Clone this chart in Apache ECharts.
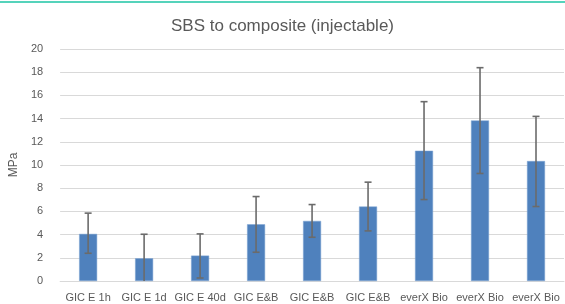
<!DOCTYPE html>
<html>
<head>
<meta charset="utf-8">
<script src="https://cdn.jsdelivr.net/npm/echarts@6/dist/echarts.min.js"></script>
<style>
  html, body { margin: 0; padding: 0; background: #fff; }
  #main { width: 565px; height: 304px; }
</style>
</head>
<body>
<div id="main"></div>
<script>
// chart data
var categories = ['GIC E 1h', 'GIC E 1d', 'GIC E 40d', 'GIC E&B', 'GIC E&B', 'GIC E&B', 'everX Bio', 'everX Bio', 'everX Bio'];
var means = [4.06, 1.96, 2.19, 4.89, 5.18, 6.42, 11.23, 13.84, 10.34];
var errHigh = [5.85, 4.03, 4.06, 7.28, 6.59, 8.52, 15.46, 18.39, 14.19];
var errLow = [2.39, -0.1, 0.26, 2.48, 3.77, 4.32, 7.02, 9.27, 6.42];
var yTicks = { min: 0, max: 20, step: 2 };

var errData = categories.map(function (c, i) {
  return [i, errLow[i], errHigh[i]];
});

var chart = echarts.init(document.getElementById('main'));
var textColor = '#595959';
var fontFamily = '"Liberation Sans", Arial, sans-serif';

chart.setOption({
  animation: false,
  textStyle: { fontFamily: fontFamily },
  title: {
    text: 'SBS to composite (injectable)',
    left: 'center',
    top: 13,
    textStyle: { color: textColor, fontSize: 17, fontWeight: 'normal', fontFamily: fontFamily }
  },
  graphic: [{
    type: 'line',
    shape: { x1: 0, y1: 2, x2: 565, y2: 2 },
    style: { stroke: '#1cc4a4', lineWidth: 1.5 }
  }],
  grid: { left: 59, right: 1, top: 49, bottom: 23 },
  xAxis: {
    type: 'category',
    data: categories,
    axisLine: { lineStyle: { color: '#d9d9d9' } },
    axisTick: { show: false },
    axisLabel: { interval: 0, color: textColor, fontSize: 11, margin: 11 }
  },
  yAxis: {
    type: 'value',
    min: yTicks.min,
    max: yTicks.max,
    interval: yTicks.step,
    name: 'MPa',
    nameLocation: 'middle',
    nameGap: 38,
    nameTextStyle: { color: textColor, fontSize: 12 },
    axisLine: { show: false },
    axisTick: { show: false },
    axisLabel: { color: textColor, fontSize: 11, margin: 17 },
    splitLine: { lineStyle: { color: '#d9d9d9' } }
  },
  series: [
    {
      type: 'bar',
      data: means,
      barWidth: 18,
      itemStyle: { color: '#4f81bd', borderColor: '#7ea4d3', borderWidth: 0.5 }
    },
    {
      type: 'custom',
      data: errData,
      z: 5,
      renderItem: function (params, api) {
        var x = api.value(0);
        var lo = api.coord([x, Math.max(api.value(1), 0)]);
        var hi = api.coord([x, api.value(2)]);
        var half = 3.5;
        var style = { stroke: '#6b6b6b', lineWidth: 1.6 };
        var children = [
          { type: 'line', shape: { x1: hi[0], y1: hi[1], x2: lo[0], y2: lo[1] }, style: style },
          { type: 'line', shape: { x1: hi[0] - half, y1: hi[1], x2: hi[0] + half, y2: hi[1] }, style: style }
        ];
        if (api.value(1) > 0) {
          children.push({ type: 'line', shape: { x1: lo[0] - half, y1: lo[1], x2: lo[0] + half, y2: lo[1] }, style: style });
        }
        return { type: 'group', children: children };
      }
    }
  ]
});
</script>
</body>
</html>
